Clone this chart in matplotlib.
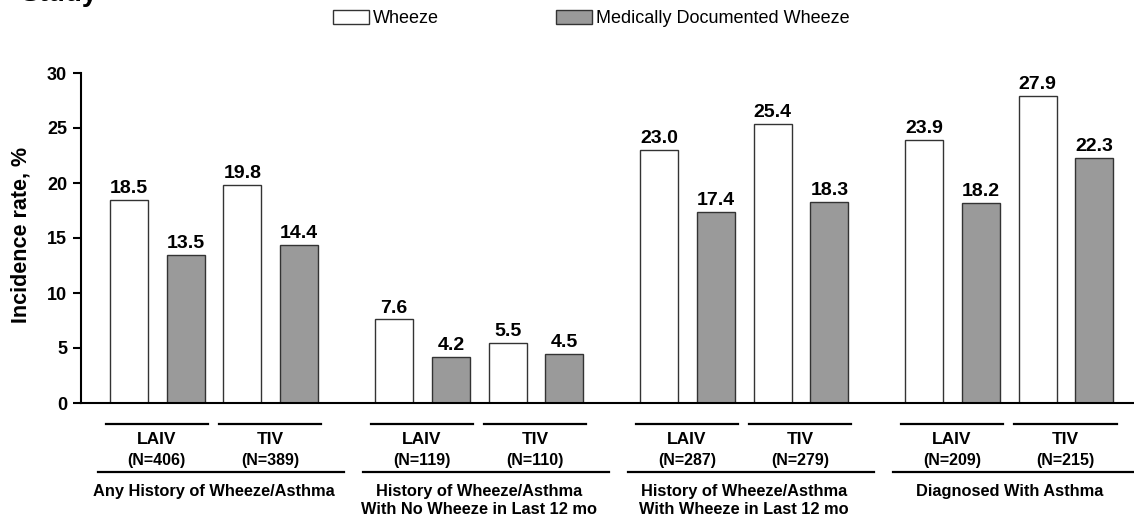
import matplotlib.pyplot as plt
import numpy as np
from matplotlib.patches import Patch
from matplotlib.transforms import blended_transform_factory

plt.rcParams['font.family'] = ['Liberation Sans', 'DejaVu Sans']

# data
groups = [
    "Any History of Wheeze/Asthma",
    "History of Wheeze/Asthma\nWith No Wheeze in Last 12 mo",
    "History of Wheeze/Asthma\nWith Wheeze in Last 12 mo",
    "Diagnosed With Asthma",
]
arms = ["LAIV", "TIV"]
n_laiv = [406, 119, 287, 209]
n_tiv = [389, 110, 279, 215]
wheeze_laiv = [18.5, 7.6, 23.0, 23.9]
wheeze_tiv = [19.8, 5.5, 25.4, 27.9]
med_laiv = [13.5, 4.2, 17.4, 18.2]
med_tiv = [14.4, 4.5, 18.3, 22.3]
yticks = [0, 5, 10, 15, 20, 25, 30]
series_names = ["Wheeze", "Medically Documented Wheeze"]

WHITE = "white"
GRAY = "#9a9a9a"
EDGE = "#333333"

fig = plt.figure(figsize=(11.34, 5.19), dpi=100)
ax = fig.add_axes([81 / 1134, 116 / 519, 1053 / 1134, 330 / 519])

group_gap = 4.674
width = 0.67
start = np.arange(len(groups)) * group_gap
x_laiv_w = start
x_laiv_m = start + 1
x_tiv_w = start + 2
x_tiv_m = start + 3

bars = [
    ax.bar(x_laiv_w, wheeze_laiv, width, color=WHITE, edgecolor=EDGE, linewidth=1),
    ax.bar(x_laiv_m, med_laiv, width, color=GRAY, edgecolor=EDGE, linewidth=1),
    ax.bar(x_tiv_w, wheeze_tiv, width, color=WHITE, edgecolor=EDGE, linewidth=1),
    ax.bar(x_tiv_m, med_tiv, width, color=GRAY, edgecolor=EDGE, linewidth=1),
]
for b in bars:
    ax.bar_label(b, fmt="%.1f", padding=2, fontsize=14, fontweight="bold")

ax.set_xlim(-0.847, 17.72)
ax.set_ylim(0, 30)
ax.set_yticks(yticks)
ax.set_xticks([])
ax.spines["top"].set_visible(False)
ax.spines["right"].set_visible(False)
ax.spines["left"].set_linewidth(1.5)
ax.spines["bottom"].set_linewidth(1.5)
ax.tick_params(axis="y", direction="out", length=6, width=1.5, pad=4, labelsize=13)
for lbl in ax.get_yticklabels():
    lbl.set_fontweight("bold")

fig.text(21 / 1134, 0.547, "Incidence rate, %", rotation=90, ha="center",
         va="center", fontsize=15.5, fontweight="bold")

# category annotations under the axis
trans = blended_transform_factory(ax.transData, ax.transAxes)
line_kw = dict(transform=trans, clip_on=False, color="black", lw=1.6)
for g in range(len(groups)):
    for k, (xw, n) in enumerate([(x_laiv_w[g], n_laiv[g]), (x_tiv_w[g], n_tiv[g])]):
        ax.plot([xw - 0.41, xw + 1.39], [-0.064, -0.064], **line_kw)
        ax.text(xw + 0.49, -0.112, arms[k], transform=trans, ha="center",
                va="center", fontsize=12.5, fontweight="bold")
        ax.text(xw + 0.49, -0.173, f"(N={n})", transform=trans, ha="center",
                va="center", fontsize=11.5, fontweight="bold")
    ax.plot([start[g] - 0.55, start[g] + 3.79], [-0.209, -0.209], **line_kw)
    ax.text(start[g] + 1.5, -0.244, groups[g], transform=trans, ha="center",
            va="top", fontsize=11.8, fontweight="bold", linespacing=1.25)

handles = [Patch(facecolor=WHITE, edgecolor=EDGE, linewidth=1),
           Patch(facecolor=GRAY, edgecolor=EDGE, linewidth=1)]
fig.legend(handles, series_names, loc="upper left",
           bbox_to_anchor=(333 / 1134, 1 - 10 / 519), ncol=2, frameon=False,
           fontsize=13, handlelength=2.0, handleheight=0.78, handletextpad=0.2,
           columnspacing=6.5, borderpad=0, borderaxespad=0)

# title cut off at the top of the reference
fig.text(20 / 1134, 1 - 1 / 519, "Study", fontsize=20, fontweight="bold",
         va="baseline", ha="left")

fig.savefig("out.png", dpi=100)
